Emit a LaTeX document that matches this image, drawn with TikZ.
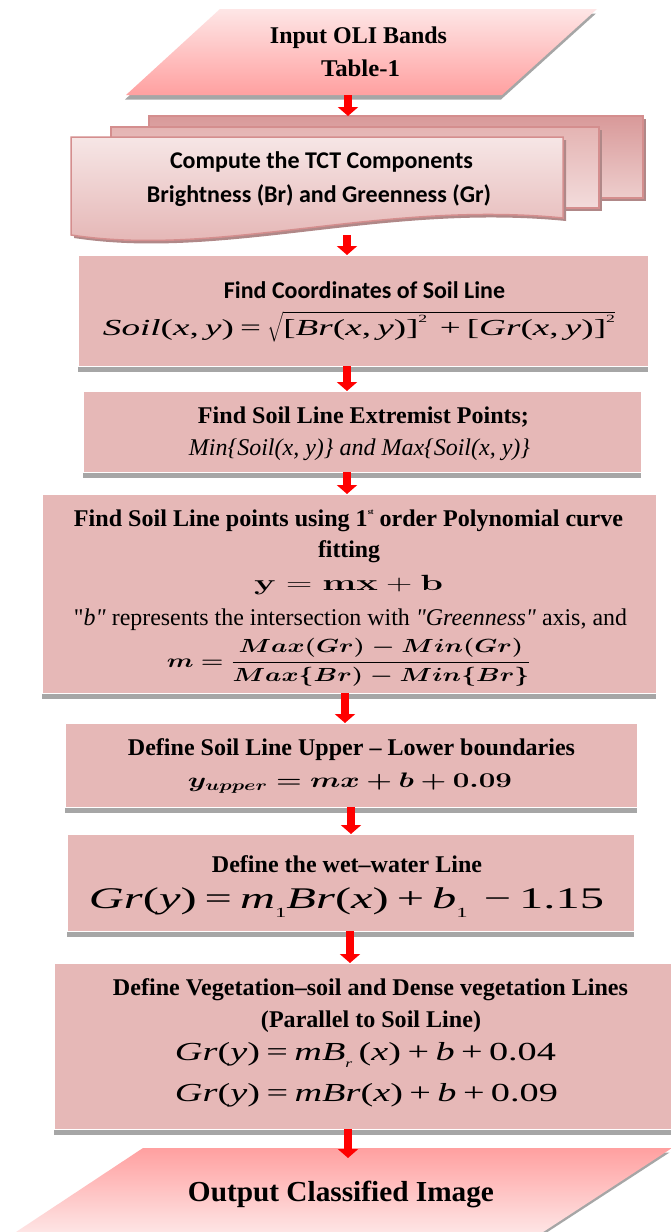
\documentclass[tikz,border=0pt]{standalone}
\usepackage{fix-cm}
\usepackage{bm}
\usepackage{graphicx}
\usepackage[no-math]{fontspec}
\setmainfont{Liberation Serif}
\newfontfamily\calibfont{Carlito}
\usetikzlibrary{arrows.meta,shadows,calc}
\definecolor{boxfill}{HTML}{E6B8B7}
\definecolor{shadowgray}{HTML}{A6A6A6}
\definecolor{topA}{HTML}{FEE6E6}
\definecolor{topB}{HTML}{FFA0A0}
\definecolor{sheetline}{HTML}{D48E8E}
\definecolor{sheetshadow}{HTML}{B08888}
\newcommand{\wfit}[2]{\resizebox{#1pt}{\height}{#2}}
\newcommand{\smallsup}[1]{\raisebox{0.55em}{\fontsize{11}{11}\selectfont #1}}
\newcommand{\smallsub}[1]{\raisebox{-0.3em}{\fontsize{14}{14}\selectfont #1}}
\tikzset{
  invis/.style={rectangle, inner sep=0pt, outer sep=0pt, draw=none},
  stepbox/.style={rectangle, inner sep=0pt, outer sep=0pt, fill=boxfill, draw=white, line width=0.8pt,
    drop shadow={shadow xshift=0pt, shadow yshift=-5.5pt, fill=shadowgray, opacity=1}},
  txt/.style={anchor=base, inner sep=0pt, outer sep=0pt, font=\fontsize{24}{28}\selectfont\bfseries},
  ctxt/.style={anchor=base, inner sep=0pt, outer sep=0pt, font=\fontsize{24}{28}\selectfont\calibfont\bfseries},
  itxt/.style={anchor=base, inner sep=0pt, outer sep=0pt, font=\fontsize{24}{28}\selectfont\itshape},
  ftxt/.style={anchor=base, inner sep=0pt, outer sep=0pt},
  redarr/.style={draw=red, line width=8pt, -{Triangle[width=20pt,length=9pt]}},
  sheet/.style={draw=sheetline, line width=1.5pt},
}
\begin{document}
\begin{tikzpicture}[x=1pt,y=-1pt]
\useasboundingbox (0,0) rectangle (670,1232);
\fill[white] (0,0) rectangle (670,1232);
% column coordinates for arrows
\coordinate (c345) at (345,0);
\coordinate (c347) at (347,0);
\coordinate (c348) at (348,0);
\coordinate (c350) at (350,0);
\coordinate (c351) at (351,0);

% ---------- input parallelogram ----------
\node[invis, minimum width=471, minimum height=86] (inp) at (361.5,52) {};
\fill[shadowgray] ($(inp.north west)+(93,4.5)$) -- ($(inp.north east)+(-1,4.5)$) -- ($(inp.south east)+(-96,4.5)$) -- ($(inp.south west)+(-1,4.5)$) -- cycle;
\shade[top color=topA, bottom color=topB] ($(inp.north west)+(94,0)$) -- (inp.north east) -- ($(inp.south east)+(-95,0)$) -- (inp.south west) -- cycle;
\node[txt] (inpA) at (358.5,43.3) {\wfit{177}{Input OLI Bands}};
\node[txt] (inpB) at (360.5,76) {\wfit{79}{Table-1}};

% ---------- multi document ----------
\node[invis, minimum width=494, minimum height=82] (tctback) at (396,157) {};
\node[invis, minimum width=488, minimum height=81] (tctmid) at (355,167.5) {};
\node[invis, minimum width=492, minimum height=98] (tct) at (317,186) {};
\fill[sheetshadow] ($(tctback.north west)+(3,3)$) rectangle ($(tctback.south east)+(3,3)$);
\shade[top color=sheetline!90!white, bottom color=boxfill!70!white, sheet] (tctback.north west) rectangle (tctback.south east);
\fill[sheetshadow] ($(tctmid.north west)+(3,3)$) rectangle ($(tctmid.south east)+(3,3)$);
\shade[top color=boxfill!90!sheetline, bottom color=boxfill!50!white, sheet] (tctmid.north west) rectangle (tctmid.south east);
\fill[sheetshadow] ($(tct.north west)+(3,3)$) -- ($(tct.north east)+(3,3)$) -- ($(tct.north east)+(3,84)$)
   .. controls ($(tct.north west)+(312,66)$) and ($(tct.north west)+(152,124)$) .. ($(tct.south west)+(3,3)$) -- cycle;
\shade[top color=boxfill!35!white, bottom color=boxfill!80!sheetline, sheet] (tct.north west) -- (tct.north east) -- ($(tct.north east)+(0,81)$)
   .. controls ($(tct.north west)+(309,63)$) and ($(tct.north west)+(149,121)$) .. (tct.south west) -- cycle;
\node[ctxt] (tctA) at (321.5,168) {\wfit{303}{Compute the TCT Components}};
\node[ctxt] (tctB) at (319,202) {\wfit{344}{Brightness (Br) and Greenness (Gr)}};

% ---------- boxes ----------
\node[stepbox, minimum width=570, minimum height=111] (b3) at (363,310.5) {};
\node[ctxt] (b3A) at (364.5,298) {\wfit{281}{Find Coordinates of Soil Line}};
\node[ftxt, font=\fontsize{23}{28}\selectfont] (b3B) at (359,335) {\wfit{512}{\textit{Soil}(\textit{x},\,\textit{y})\,=\,$\sqrt{\hbox{[\textit{Br}(\textit{x},\,\textit{y})]\smallsup{2}\,\,+\,[\textit{Gr}(\textit{x},\,\textit{y})]\smallsup{2}}}$}};

\node[stepbox, minimum width=558, minimum height=81] (b4) at (362,431.5) {};
\node[txt] (b4A) at (363.5,423) {\wfit{331}{Find Soil Line Extremist Points;}};
\node[itxt] (b4B) at (359.5,455) {\wfit{341}{Min\{Soil(x, y)\} and Max\{Soil(x, y)\}}};

\node[stepbox, minimum width=614, minimum height=199] (b5) at (349,593.5) {};
\node[txt] (b5A) at (348.5,526) {\wfit{549}{Find Soil Line points using 1\raisebox{0.5em}{\fontsize{8}{8}\selectfont st} order Polynomial curve}};
\node[txt] (b5B) at (349,557) {\wfit{62}{fitting}};
\node[ftxt, font=\fontsize{22}{26}\selectfont] (b5C) at (348.5,590) {\wfit{189}{$\mathbf{y = mx + b}$}};
\node[ftxt, font=\fontsize{24}{28}\selectfont] (b5D) at (350.5,625) {\wfit{553}{\textquotedbl\textit{b\textquotedbl} represents the intersection with \textit{\textquotedbl Greenness\textquotedbl} axis, and}};
\node[ftxt, font=\fontsize{19}{23}\selectfont] (b5E) at (349,667) {\wfit{364}{$\displaystyle\bm{m = \frac{Max(Gr) - Min(Gr)}{Max\{Br) - Min\{Br\}}}$}};

\node[stepbox, minimum width=572, minimum height=84] (b6) at (351,765) {};
\node[txt] (b6A) at (351.5,755) {\wfit{447}{Define Soil Line Upper – Lower boundaries}};
\node[ftxt, font=\fontsize{21}{25}\selectfont] (b6B) at (350,787) {\wfit{324}{$\bm{y_{upper} = mx + b + 0.09}$}};

\node[stepbox, minimum width=567, minimum height=97] (b7) at (350.5,882.5) {};
\node[txt] (b7A) at (347,872) {\wfit{270}{Define the wet–water Line}};
\node[ftxt, font=\fontsize{30}{36}\selectfont] (b7B) at (346.5,908) {\wfit{515}{\textit{Gr}(\textit{y})\,=\,\textit{m}\smallsub{1}\textit{Br}(\textit{x})\,+\,\textit{b}\smallsub{1}\,\,−\,1.15}};

\node[stepbox, minimum width=618, minimum height=166] (b8) at (363,1046) {};
\node[txt] (b8A) at (370.5,995) {\wfit{515}{Define Vegetation–soil and Dense vegetation Lines}};
\node[txt] (b8B) at (371,1027) {\wfit{220}{(Parallel to Soil Line)}};
\node[ftxt, font=\fontsize{26}{30}\selectfont] (b8C) at (365.5,1060) {\wfit{381}{\textit{Gr}(\textit{y})\,=\,\textit{mB}\raisebox{-0.3em}{\fontsize{12}{12}\selectfont\itshape r}\,(\textit{x})\,+\,\textit{b}\,+\,0.04}};
\node[ftxt, font=\fontsize{26}{30}\selectfont] (b8D) at (366.5,1101) {\wfit{383}{\textit{Gr}(\textit{y})\,=\,\textit{mBr}(\textit{x})\,+\,\textit{b}\,+\,0.09}};

% ---------- output parallelogram ----------
\node[invis, minimum width=659, minimum height=86] (out) at (342.5,1191) {};
\fill[shadowgray] ($(out.north west)+(127.5,4.5)$) -- ($(out.north east)+(-2.5,4.5)$) -- ($(out.south east)+(-134.5,4.5)$) -- ($(out.south west)+(-2.5,4.5)$) -- cycle;
\shade[top color=topB, bottom color=topA] ($(out.north west)+(130,0)$) -- (out.north east) -- ($(out.south east)+(-132,0)$) -- (out.south west) -- cycle;
\node[txt, font=\fontsize{29}{34}\selectfont\bfseries] (outA) at (341,1201) {\wfit{306}{Output Classified Image}};

% ---------- arrows ----------
\draw[redarr] (inp.south -| c348) -- (tctback.north -| c348);
\draw[redarr] (tct.south -| c347) -- (b3.north -| c347);
\draw[redarr] (b3.south -| c347) -- (b4.north -| c347);
\draw[redarr] (b4.south -| c347) -- (b5.north -| c347);
\draw[redarr] (b5.south -| c345) -- (b6.north -| c345);
\draw[redarr] (b6.south -| c351) -- (b7.north -| c351);
\draw[redarr] (b7.south -| c350) -- (b8.north -| c350);
\draw[redarr, shorten >=-10pt] (b8.south -| c348) -- (out.north -| c348);
\end{tikzpicture}
\end{document}
